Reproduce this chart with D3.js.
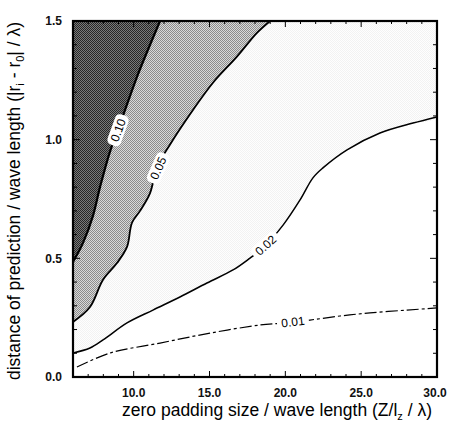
<!DOCTYPE html>
<html><head><meta charset="utf-8">
<script src="https://cdn.jsdelivr.net/npm/d3@7"></script>
<style>
html,body{margin:0;padding:0;background:#fff;}
svg{display:block;font-family:"Liberation Sans",Arial,sans-serif;}
</style></head>
<body><svg id="c" width="453" height="438"></svg>
<script>
// Contour levels and their traced points [x, y]
const levels = ["0.10", "0.05", "0.02", "0.01"];
const c010 = [[6,0.485],[6.66,0.565],[7.32,0.68],[7.78,0.80],[8.44,0.95],[8.97,1.04],[9.43,1.125],[10.22,1.265],[10.95,1.38],[11.74,1.50]];
const c005 = [[6,0.232],[7.12,0.295],[7.98,0.41],[8.9,0.48],[9.56,0.548],[9.89,0.65],[10.42,0.70],[11.08,0.775],[11.54,0.885],[12.4,0.98],[13.91,1.125],[15.23,1.24],[16.81,1.35],[18.13,1.45],[19.0,1.50]];
const c002 = [[6,0.101],[7.12,0.122],[7.98,0.156],[9.56,0.228],[11.27,0.282],[13.05,0.337],[14.83,0.396],[16.55,0.451],[17.67,0.501],[18.53,0.544],[19.85,0.64],[20.97,0.746],[21.82,0.839],[22.48,0.881],[24.07,0.957],[26.24,1.028],[28.42,1.070],[30,1.096]];
const c001 = [[6.26,0.042],[8.44,0.101],[11.74,0.143],[15.03,0.185],[18.33,0.219],[19.98,0.228],[21.63,0.240],[23.6,0.257],[25.58,0.270],[28.02,0.282],[30,0.291]];
// label anchor positions along each contour [x, y]
const labelPos = [[8.97,1.04],[11.62,0.88],[18.7,0.555],[20.5,0.232]];
const xTicks = [10, 15, 20, 25, 30];
const xTickLabels = ["10.0", "15.0", "20.0", "25.0", "30.0"];
const yTicks = [0, 0.5, 1.0, 1.5];
const yTickLabels = ["0.0", "0.5", "1.0", "1.5"];

const svg = d3.select("#c");
const x = d3.scaleLinear().domain([6, 30]).range([73, 437]);
const y = d3.scaleLinear().domain([0, 1.5]).range([377, 21]);

const defs = svg.append("defs");
function checker(id, a, b) {
  const p = defs.append("pattern").attr("id", id).attr("width", 2).attr("height", 2).attr("patternUnits", "userSpaceOnUse");
  p.append("rect").attr("width", 2).attr("height", 2).attr("fill", b);
  p.append("rect").attr("width", 1).attr("height", 1).attr("fill", a);
  p.append("rect").attr("x", 1).attr("y", 1).attr("width", 1).attr("height", 1).attr("fill", a);
}
checker("dark", "#262626", "#7a7a7a");
checker("mid", "#8c8c8c", "#dadada");
checker("light", "#f2f2f2", "#fefefe");
defs.append("clipPath").attr("id", "plot").append("rect")
  .attr("x", x(6)).attr("y", y(1.5)).attr("width", x(30) - x(6)).attr("height", y(0) - y(1.5));

const g = svg.append("g").attr("clip-path", "url(#plot)");
const line = d3.line().x(d => x(d[0])).y(d => y(d[1])).curve(d3.curveCatmullRom);
function region(pts) {
  const last = pts[pts.length - 1];
  return line(pts) + "L" + x(last[0]) + "," + y(1.5) + "L" + x(6) + "," + y(1.5) + "Z";
}
g.append("path").attr("d", region(c002.concat([[30, 1.5]]))).attr("fill", "url(#light)");
g.append("path").attr("d", region(c005)).attr("fill", "url(#mid)");
g.append("path").attr("d", region(c010)).attr("fill", "url(#dark)");

const curves = [c010, c005, c002, c001];
const widths = [2.2, 1.8, 1.5, 1.2];
curves.forEach((c, i) => {
  g.append("path").attr("d", line(c)).attr("fill", "none").attr("stroke", "#000")
    .attr("stroke-width", widths[i])
    .attr("stroke-dasharray", i === 3 ? "12,3,3,3" : null);
});

// labels along contours
const angles = [-70, -66, -42, -7];
labelPos.forEach((p, i) => {
  const lg = g.append("g").attr("transform", `translate(${x(p[0])},${y(p[1])}) rotate(${angles[i]})`);
  lg.append("rect").attr("x", -16).attr("y", -7).attr("width", 32).attr("height", 14).attr("rx", 5).attr("fill", "#fff");
  lg.append("text").attr("text-anchor", "middle").attr("dy", "0.35em")
    .attr("font-size", 12).text(levels[i]);
});

// ticks (inner) on all sides
const tk = svg.append("g").attr("stroke", "#000").attr("stroke-width", 1);
d3.range(6, 31, 1).forEach(v => {
  const L = v % 5 === 0 ? 6 : 3;
  tk.append("line").attr("x1", x(v)).attr("x2", x(v)).attr("y1", y(0)).attr("y2", y(0) - L);
  tk.append("line").attr("x1", x(v)).attr("x2", x(v)).attr("y1", y(1.5)).attr("y2", y(1.5) + L);
});
d3.range(0, 16, 1).forEach(k => {
  const v = k / 10;
  const L = k % 5 === 0 ? 7 : 4;
  tk.append("line").attr("x1", x(6)).attr("x2", x(6) + L).attr("y1", y(v)).attr("y2", y(v));
  tk.append("line").attr("x1", x(30)).attr("x2", x(30) - L).attr("y1", y(v)).attr("y2", y(v));
});

// frame
svg.append("rect").attr("x", x(6)).attr("y", y(1.5)).attr("width", x(30) - x(6)).attr("height", y(0) - y(1.5))
  .attr("fill", "none").attr("stroke", "#000").attr("stroke-width", 2.2);

// tick labels
xTicks.forEach((v, i) => {
  svg.append("text").attr("x", x(v) + (v === 30 ? -2 : 0)).attr("y", 397).attr("text-anchor", "middle")
    .attr("font-size", 12).attr("font-weight", "bold").attr("fill", "#111").text(xTickLabels[i]);
});
yTicks.forEach((v, i) => {
  svg.append("text").attr("x", 62).attr("y", y(v)).attr("dy", "0.35em").attr("text-anchor", "end")
    .attr("font-size", 12).attr("font-weight", "bold").attr("fill", "#111").text(yTickLabels[i]);
});

// axis titles
const xt = svg.append("text").attr("x", 277).attr("y", 416).attr("text-anchor", "middle")
  .attr("font-size", 17.5).attr("fill", "#000");
xt.append("tspan").text("zero padding size / wave length (Z/l");
xt.append("tspan").attr("font-size", 11).attr("dy", 4).text("z");
xt.append("tspan").attr("dy", -4).text(" / λ)");

const yt = svg.append("text").attr("transform", "translate(20,201) rotate(-90)").attr("text-anchor", "middle")
  .attr("font-size", 17.5).attr("fill", "#000");
yt.append("tspan").text("distance of prediction / wave length (|r");
yt.append("tspan").attr("font-size", 11).attr("dy", 4).text("i");
yt.append("tspan").attr("dy", -4).text(" - r");
yt.append("tspan").attr("font-size", 11).attr("dy", 4).text("0");
yt.append("tspan").attr("dy", -4).text("| / λ)");
</script></body></html>
